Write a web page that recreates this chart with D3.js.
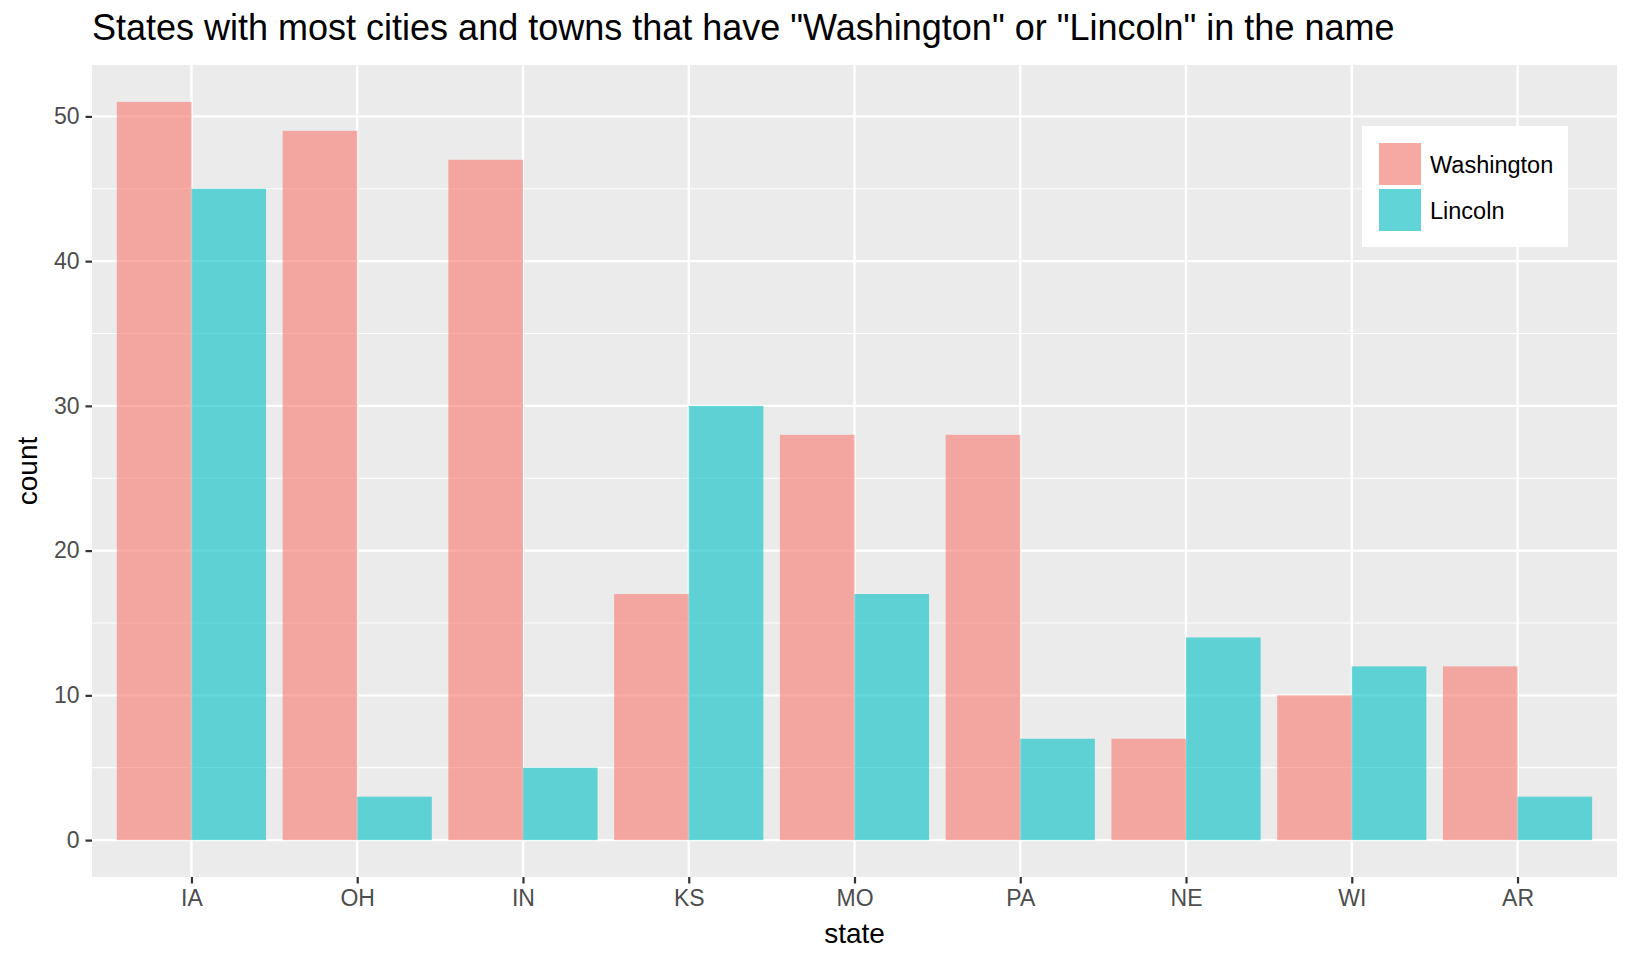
<!DOCTYPE html>
<html lang="en">
<head>
<meta charset="UTF-8">
<title>Washington / Lincoln</title>
<script src="https://d3js.org/d3.v7.min.js"></script>
<style>
    body { margin: 0; background: #fff; }
    svg { display: block; font-family: "Liberation Sans", Arial, sans-serif; }
</style>
</head>
<body>
<div id="chart"></div>
<script>
// data
var states = ["IA", "OH", "IN", "KS", "MO", "PA", "NE", "WI", "AR"];
var washington = [51, 49, 47, 17, 28, 28, 7, 10, 12];
var lincoln = [45, 3, 5, 30, 17, 7, 14, 12, 3];
var seriesNames = ["Washington", "Lincoln"];
var seriesColors = ["#F8766D", "#00BFC4"];
var yTicks = [0, 10, 20, 30, 40, 50];

var W = 1632, H = 960;
var panel = { left: 92, top: 65, right: 1617, bottom: 877 };

var svg = d3.select("#chart").append("svg")
    .attr("width", W).attr("height", H);

// scales with ggplot-like expansion
var x = d3.scaleLinear()
    .domain([0.4, states.length + 0.6])
    .range([panel.left, panel.right]);
var yMax = d3.max(washington.concat(lincoln));
var y = d3.scaleLinear()
    .domain([-yMax * 0.05, yMax * 1.05])
    .range([panel.bottom, panel.top]);

// panel background
svg.append("rect")
    .attr("x", panel.left).attr("y", panel.top)
    .attr("width", panel.right - panel.left)
    .attr("height", panel.bottom - panel.top)
    .attr("fill", "#EBEBEB");

// minor grid
var minor = d3.range(5, 60, 10).filter(function (v) { return y(v) > panel.top; });
svg.selectAll(".minor").data(minor).enter().append("line")
    .attr("x1", panel.left).attr("x2", panel.right)
    .attr("y1", function (d) { return y(d); })
    .attr("y2", function (d) { return y(d); })
    .attr("stroke", "#fff").attr("stroke-width", 1.2);

// major grid
svg.selectAll(".hmajor").data(yTicks).enter().append("line")
    .attr("x1", panel.left).attr("x2", panel.right)
    .attr("y1", function (d) { return y(d); })
    .attr("y2", function (d) { return y(d); })
    .attr("stroke", "#fff").attr("stroke-width", 2.4);
svg.selectAll(".vmajor").data(states).enter().append("line")
    .attr("y1", panel.top).attr("y2", panel.bottom)
    .attr("x1", function (d, i) { return x(i + 1); })
    .attr("x2", function (d, i) { return x(i + 1); })
    .attr("stroke", "#fff").attr("stroke-width", 2.4);

// bars (dodged, width 0.9)
var series = [washington, lincoln];
series.forEach(function (vals, s) {
    svg.selectAll(".bar" + s).data(vals).enter().append("rect")
        .attr("x", function (d, i) { return x(i + 1 - 0.45 + s * 0.45); })
        .attr("width", x(0.45) - x(0))
        .attr("y", function (d) { return y(d); })
        .attr("height", function (d) { return y(0) - y(d); })
        .attr("fill", seriesColors[s])
        .attr("fill-opacity", 0.6);
});

// y axis
var yAxis = svg.append("g")
    .attr("transform", "translate(" + panel.left + ",0)")
    .call(d3.axisLeft(y).tickValues(yTicks).tickSize(6.5).tickPadding(6));
yAxis.select(".domain").remove();
yAxis.selectAll("line").attr("stroke", "#333").attr("stroke-width", 2.2);
yAxis.selectAll("text").attr("fill", "#4D4D4D").style("font-size", "23px");

// x axis
var xAxis = svg.append("g")
    .attr("transform", "translate(0," + panel.bottom + ")")
    .call(d3.axisBottom(x).tickValues(d3.range(1, states.length + 1))
        .tickFormat(function (d) { return states[d - 1]; })
        .tickSize(6.5).tickPadding(6));
xAxis.select(".domain").remove();
xAxis.selectAll("line").attr("stroke", "#333").attr("stroke-width", 2.2);
xAxis.selectAll("text").attr("fill", "#4D4D4D").style("font-size", "23px");

// axis titles
svg.append("text")
    .attr("x", (panel.left + panel.right) / 2).attr("y", 943)
    .attr("text-anchor", "middle")
    .style("font-size", "28px")
    .text("state");
svg.append("text")
    .attr("transform", "translate(37," + (panel.top + panel.bottom) / 2 + ") rotate(-90)")
    .attr("text-anchor", "middle")
    .style("font-size", "28px")
    .text("count");

// title
svg.append("text")
    .attr("x", panel.left).attr("y", 40)
    .style("font-size", "36px")
    .text("States with most cities and towns that have \"Washington\" or \"Lincoln\" in the name");

// legend
var legend = svg.append("g");
legend.append("rect")
    .attr("x", 1362).attr("y", 126)
    .attr("width", 206).attr("height", 121)
    .attr("fill", "#fff");
seriesNames.forEach(function (name, i) {
    var ky = 143 + i * 46;
    legend.append("rect")
        .attr("x", 1379).attr("y", ky).attr("width", 42).attr("height", 42)
        .attr("fill", "#F2F2F2");
    legend.append("rect")
        .attr("x", 1379).attr("y", ky).attr("width", 42).attr("height", 42)
        .attr("fill", seriesColors[i]).attr("fill-opacity", 0.6);
    legend.append("text")
        .attr("x", 1430).attr("y", ky + 30)
        .style("font-size", "23.5px")
        .text(name);
});
</script>
</body>
</html>
